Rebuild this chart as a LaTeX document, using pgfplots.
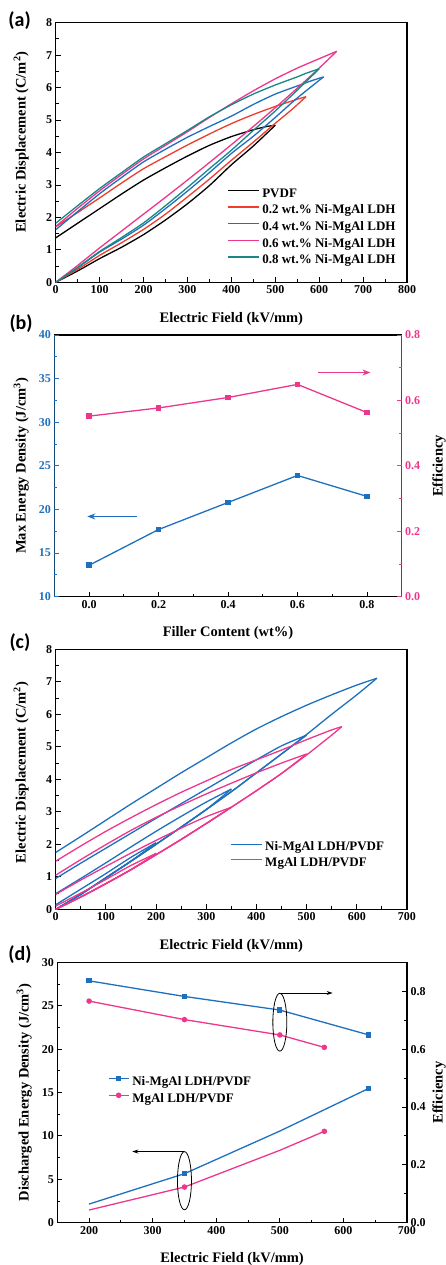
\documentclass[border=0pt]{standalone}
\usepackage{pgfplots}
\pgfplotsset{compat=1.18}
\usetikzlibrary{arrows.meta}
\usepackage{fontspec}
\setmainfont{Liberation Serif}
\newfontfamily\panelfont{Carlito}

\definecolor{cred}{RGB}{240,60,45}
\definecolor{cblue}{RGB}{30,112,190}
\definecolor{cpink}{RGB}{236,55,140}
\definecolor{cteal}{RGB}{25,135,135}

\pgfplotsset{
  panel/.style={
    scale only axis, anchor=south west,
    axis line style={line width=1.1pt},
    tick style={line width=0.9pt, color=black},
    major tick length=5pt, minor tick length=3pt,
    tick align=inside,
    tick label style={font=\fontsize{12}{14}\selectfont\bfseries},
    label style={font=\fontsize{14.5}{17}\selectfont\bfseries, inner sep=0pt},
    /pgf/number format/assume math mode=true,
    legend cell align=left,
    legend style={draw=none, fill=none, inner sep=0pt, outer sep=0pt,
      font=\fontsize{13}{15}\selectfont\bfseries,
      nodes={inner xsep=0pt, inner ysep=0pt, text height=9.5pt, text depth=3pt},
      row sep=4.2pt,
      /tikz/every odd column/.append style={column sep=3pt}},
  },
  loopline/.style={line width=1.3pt, no markers, smooth, tension=0.4},
  lineleg/.style={legend image code/.code={\draw[##1, line width=1.3pt] (0pt,3.5pt) -- (31pt,3.5pt);}},
  oneperc/.style={/pgf/number format/.cd, fixed, fixed zerofill, precision=1},
}

\begin{document}
\begin{tikzpicture}
\useasboundingbox (0pt,0pt) rectangle (446pt,-1265pt);

% ---------------- (a) D-E loops for different filler loadings
% each loop: charging branch (0,0) -> tip, then discharging branch tip -> (0,Dr)
\begin{axis}[panel, at={(55.7pt,-282.3pt)}, width=351.3pt, height=259.6pt,
  xmin=0, xmax=800, ymin=0, ymax=8,
  xtick={0,100,...,800}, ytick={0,1,...,8},
  minor x tick num=1, minor y tick num=1,
  xtick pos=bottom, ytick pos=left,
  xlabel={Electric Field (kV/mm)},
  ylabel={Electric Displacement (C/m\textsuperscript{2})},
  xlabel style={at={(axis description cs:0.5,-0.117)}, anchor=north},
  ylabel style={at={(axis description cs:-0.076,0.54)}, anchor=south},
  lineleg,
  legend style={at={(axis description cs:0.4876,0.365)}, anchor=north west}]
\addplot[loopline, black] coordinates {
 (0,0) (50,0.35) (100,0.73) (150,1.08) (200,1.47) (250,1.92) (300,2.42) (350,2.98) (400,3.62) (450,4.2) (500,4.84)};
\addlegendentry{PVDF}
\addplot[loopline, black, forget plot] coordinates {
 (500,4.84) (480,4.80) (450,4.70) (400,4.49) (350,4.22) (300,3.89) (250,3.53) (200,3.15) (150,2.72) (100,2.27) (50,1.82) (0,1.37)};
\addplot[loopline, cred] coordinates {
 (0,0) (50,0.4) (100,0.83) (150,1.22) (200,1.63) (250,2.1) (300,2.63) (350,3.18) (400,3.76) (450,4.32) (500,4.9) (540,5.35) (570,5.72)};
\addlegendentry{0.2 wt.\% Ni-MgAl LDH}
\addplot[loopline, cred, forget plot] coordinates {
 (570,5.72) (550,5.64) (500,5.42) (450,5.17) (400,4.89) (350,4.57) (300,4.23) (250,3.87) (200,3.5) (150,3.06) (100,2.6) (50,2.15) (0,1.71)};
\addplot[loopline, cblue] coordinates {
 (0,0) (50,0.45) (100,0.93) (150,1.33) (200,1.76) (250,2.27) (300,2.81) (350,3.38) (400,3.97) (450,4.5) (500,5.08) (550,5.68) (610,6.33)};
\addlegendentry{0.4 wt.\% Ni-MgAl LDH}
\addplot[loopline, cblue, forget plot] coordinates {
 (610,6.33) (580,6.2) (550,6.05) (500,5.8) (450,5.48) (400,5.12) (350,4.8) (300,4.47) (250,4.1) (200,3.71) (150,3.23) (100,2.73) (50,2.18) (0,1.62)};
\addplot[loopline, cpink] coordinates {
 (0,0) (50,0.52) (100,1.06) (150,1.58) (200,2.1) (250,2.62) (300,3.15) (350,3.69) (400,4.24) (450,4.8) (500,5.38) (550,5.98) (600,6.6) (640,7.12)};
\addlegendentry{0.6 wt.\% Ni-MgAl LDH}
\addplot[loopline, cpink, forget plot] coordinates {
 (640,7.12) (600,6.89) (550,6.6) (500,6.27) (450,5.9) (400,5.5) (350,5.08) (300,4.64) (250,4.22) (200,3.8) (150,3.32) (100,2.82) (50,2.28) (0,1.72)};
\addplot[loopline, cteal] coordinates {
 (0,0) (50,0.46) (100,0.95) (150,1.38) (200,1.83) (250,2.36) (300,2.92) (350,3.5) (400,4.07) (450,4.68) (500,5.28) (550,5.92) (600,6.58)};
\addlegendentry{0.8 wt.\% Ni-MgAl LDH}
\addplot[loopline, cteal, forget plot] coordinates {
 (600,6.58) (570,6.44) (550,6.33) (500,6.08) (450,5.8) (400,5.47) (350,5.1) (300,4.68) (250,4.27) (200,3.86) (150,3.38) (100,2.89) (50,2.36) (0,1.82)};
\end{axis}
\node[anchor=base west, inner sep=0pt, font=\panelfont\bfseries\fontsize{20}{24}\selectfont] at (8.3pt,-26.5pt) {(a)};

% ---------------- (b) energy density and efficiency vs filler content
% frame with the filler-content axis
\begin{axis}[panel, at={(54.3pt,-596.7pt)}, width=347.4pt, height=261.7pt,
  xmin=-0.1, xmax=0.9, ymin=10, ymax=40,
  xtick={0,0.2,0.4,0.6,0.8}, minor x tick num=1, ytick=\empty,
  xtick pos=bottom,
  xticklabel style={oneperc},
  xlabel={Filler Content (wt\%)},
  xlabel style={at={(axis description cs:0.5,-0.112)}, anchor=north}]
\end{axis}
% energy density (left, blue)
\begin{axis}[panel, at={(54.3pt,-596.7pt)}, width=347.4pt, height=261.7pt,
  xmin=-0.1, xmax=0.9, ymin=10, ymax=40,
  axis line style={draw=none}, xtick=\empty,
  ytick={10,15,...,40}, minor y tick num=1, ytick pos=left,
  tick style={color=cblue}, yticklabel style={text=cblue},
  ylabel={Max Energy Density (J/cm\textsuperscript{3})},
  ylabel style={at={(axis description cs:-0.073,0.5)}, anchor=south}]
\draw[cblue, line width=1.1pt] (rel axis cs:0,0) -- (rel axis cs:0,1);
\addplot[cblue, line width=1.3pt, mark=square*, mark size=2.2pt] coordinates {
 (0,13.6) (0.2,17.7) (0.4,20.8) (0.6,23.9) (0.8,21.5)};
\draw[cblue, line width=1.5pt, -{Stealth[length=8pt,width=6pt]}] (axis cs:0.139,19.2) -- (axis cs:-0.005,19.2);
\draw[cpink, line width=1.5pt, -{Stealth[length=8pt,width=6pt]}] (axis cs:0.66,35.7) -- (axis cs:0.81,35.7);
\end{axis}
% efficiency (right, pink)
\begin{axis}[panel, at={(54.3pt,-596.7pt)}, width=347.4pt, height=261.7pt,
  xmin=-0.1, xmax=0.9, ymin=0, ymax=0.8,
  axis line style={draw=none}, xtick=\empty,
  ytick={0,0.2,0.4,0.6,0.8}, minor y tick num=1, ytick pos=right, yticklabel pos=right,
  tick style={color=cpink}, yticklabel style={text=cpink, oneperc},
  ylabel={Efficiency},
  ylabel style={at={(axis description cs:1.1275,0.5)}, anchor=south}]
\draw[cpink, line width=1.1pt] (rel axis cs:1,0) -- (rel axis cs:1,1);
\addplot[cpink, line width=1.3pt, mark=square*, mark size=2.2pt] coordinates {
 (0,0.552) (0.2,0.577) (0.4,0.609) (0.6,0.649) (0.8,0.563)};
\end{axis}
\node[anchor=base west, inner sep=0pt, font=\panelfont\bfseries\fontsize{20}{24}\selectfont] at (9.3pt,-329.5pt) {(b)};

% ---------------- (c) loops at increasing field
\begin{axis}[panel, at={(55.7pt,-909.3pt)}, width=351.3pt, height=260pt,
  xmin=0, xmax=700, ymin=0, ymax=8,
  xtick={0,100,...,700}, ytick={0,1,...,8},
  minor x tick num=1, minor y tick num=1,
  xtick pos=bottom, ytick pos=left,
  xlabel={Electric Field (kV/mm)},
  ylabel={Electric Displacement (C/m\textsuperscript{2})},
  xlabel style={at={(axis description cs:0.5,-0.115)}, anchor=north},
  ylabel style={at={(axis description cs:-0.076,0.526)}, anchor=south},
  lineleg, legend style={row sep=3.1pt},
  legend style={at={(axis description cs:0.496,0.261)}, anchor=north west}]
% Ni-MgAl LDH/PVDF, maximum field 640 kV/mm
\addplot[loopline, cblue] coordinates {
 (0,0) (50,0.46) (100,0.97) (150,1.48) (200,2.0) (250,2.53) (300,3.07) (350,3.62) (400,4.2) (450,4.78) (500,5.38) (550,6.0) (600,6.6) (640,7.11)};
\addlegendentry{Ni-MgAl LDH/PVDF}
\addplot[loopline, cpink] coordinates {
 (0,0) (50,0.38) (100,0.79) (150,1.22) (200,1.68) (250,2.15) (300,2.64) (350,3.14) (400,3.65) (450,4.18) (500,4.75) (550,5.36) (570,5.62)};
\addlegendentry{MgAl LDH/PVDF}
\addplot[loopline, cblue, forget plot] coordinates {
 (640,7.11) (600,6.9) (550,6.6) (500,6.28) (450,5.93) (400,5.55) (350,5.12) (300,4.66) (250,4.2) (200,3.72) (150,3.24) (100,2.74) (50,2.24) (0,1.75)};
% Ni-MgAl LDH/PVDF, 500, 350 and 200 kV/mm
\addplot[loopline, cblue, forget plot] coordinates {
 (0,0) (50,0.46) (100,0.97) (150,1.48) (200,2.0) (250,2.53) (300,3.07) (350,3.62) (400,4.2) (450,4.78) (500,5.36)};
\addplot[loopline, cblue, forget plot] coordinates {
 (500,5.36) (450,5.03) (400,4.6) (350,4.15) (300,3.7) (250,3.25) (200,2.8) (150,2.34) (100,1.88) (50,1.42) (0,0.95)};
\addplot[loopline, cblue, forget plot] coordinates {
 (0,0) (50,0.46) (100,0.97) (150,1.48) (200,2.0) (250,2.53) (300,3.07) (350,3.7)};
\addplot[loopline, cblue, forget plot] coordinates {
 (350,3.7) (300,3.3) (250,2.86) (200,2.4) (150,1.92) (100,1.43) (50,0.95) (0,0.48)};
\addplot[loopline, cblue, forget plot] coordinates {
 (0,0) (50,0.46) (100,0.97) (150,1.48) (200,2.05)};
\addplot[loopline, cblue, forget plot] coordinates {
 (200,2.05) (150,1.6) (100,1.1) (50,0.62) (0,0.14)};
% MgAl LDH/PVDF, 570, 500, 350 and 200 kV/mm
\addplot[loopline, cpink, forget plot] coordinates {
 (570,5.62) (550,5.52) (500,5.22) (450,4.9) (400,4.6) (350,4.3) (300,3.95) (250,3.6) (200,3.22) (150,2.82) (100,2.4) (50,1.95) (0,1.48)};
\addplot[loopline, cpink, forget plot] coordinates {
 (0,0) (50,0.38) (100,0.79) (150,1.22) (200,1.68) (250,2.15) (300,2.64) (350,3.14) (400,3.65) (450,4.18) (500,4.78)};
\addplot[loopline, cpink, forget plot] coordinates {
 (500,4.78) (450,4.5) (400,4.2) (350,3.88) (300,3.55) (250,3.2) (200,2.83) (150,2.43) (100,1.99) (50,1.53) (0,1.05)};
\addplot[loopline, cpink, forget plot] coordinates {
 (0,0) (50,0.38) (100,0.79) (150,1.22) (200,1.68) (250,2.15) (300,2.64) (350,3.14)};
\addplot[loopline, cpink, forget plot] coordinates {
 (350,3.14) (300,2.85) (250,2.5) (200,2.12) (150,1.73) (100,1.32) (50,0.9) (0,0.46)};
\addplot[loopline, cpink, forget plot] coordinates {
 (0,0) (50,0.38) (100,0.79) (150,1.22) (200,1.72)};
\addplot[loopline, cpink, forget plot] coordinates {
 (200,1.72) (150,1.35) (100,0.92) (50,0.5) (0,0.1)};
\end{axis}
\node[anchor=base west, inner sep=0pt, font=\panelfont\bfseries\fontsize{20}{24}\selectfont] at (9.3pt,-648pt) {(c)};

% ---------------- (d) discharged energy density and efficiency vs field
\begin{axis}[panel, at={(57.3pt,-1222.7pt)}, width=349.7pt, height=260.4pt,
  xmin=150, xmax=700, ymin=0, ymax=30,
  xtick={200,300,...,700}, ytick={0,5,...,30},
  minor x tick num=1, minor y tick num=1,
  xtick pos=bottom, ytick pos=left,
  xlabel={Electric Field (kV/mm)},
  ylabel={Discharged Energy Density (J/cm\textsuperscript{3})},
  xlabel style={at={(axis description cs:0.5,-0.115)}, anchor=north},
  ylabel style={at={(axis description cs:-0.072,0.5)}, anchor=south},
  legend image code/.code={\draw[#1, line width=1.3pt] plot coordinates {(0pt,3.5pt) (10pt,3.5pt) (20pt,3.5pt)};},
  legend style={at={(axis description cs:0.145,0.564)}, anchor=north west}]
\addplot[cblue, line width=1.3pt, mark=square*, mark size=2pt, mark repeat=2, mark phase=2] coordinates {
 (200,2.15) (350,5.65) (500,10.56) (640,15.48)};
\addlegendentry{Ni-MgAl LDH/PVDF}
\addplot[cpink, line width=1.3pt, mark=*, mark size=2.1pt, mark repeat=2, mark phase=2] coordinates {
 (200,1.46) (350,4.11) (500,8.34) (570,10.53)};
\addlegendentry{MgAl LDH/PVDF}
\draw[black, line width=0.8pt] (axis cs:350,4.84) ellipse [x radius=11, y radius=3.35];
\draw[black, line width=0.8pt, -{Stealth[length=6pt,width=4pt]}] (axis cs:350,8.2) -- (axis cs:268,8.2);
\end{axis}
\begin{axis}[panel, at={(57.3pt,-1222.7pt)}, width=349.7pt, height=260.4pt,
  xmin=150, xmax=700, ymin=0, ymax=0.9,
  axis line style={draw=none}, xtick=\empty,
  ytick={0,0.2,0.4,0.6,0.8}, minor y tick num=1, ytick pos=right, yticklabel pos=right,
  yticklabel style={oneperc},
  ylabel={Efficiency},
  ylabel style={at={(axis description cs:1.1115,0.5)}, anchor=south}]
\addplot[cblue, line width=1.3pt, mark=square*, mark size=2pt] coordinates {
 (200,0.836) (350,0.782) (500,0.735) (640,0.649)};
\addplot[cpink, line width=1.3pt, mark=*, mark size=2.1pt] coordinates {
 (200,0.766) (350,0.702) (500,0.649) (570,0.606)};
\draw[black, line width=0.8pt] (axis cs:500,0.693) ellipse [x radius=11, y radius=0.1];
\draw[black, line width=0.8pt, -{Stealth[length=6pt,width=4pt]}] (axis cs:500,0.794) -- (axis cs:583,0.794);
\end{axis}
\node[anchor=base west, inner sep=0pt, font=\panelfont\bfseries\fontsize{20}{24}\selectfont] at (8.3pt,-960pt) {(d)};
\end{tikzpicture}
\end{document}
